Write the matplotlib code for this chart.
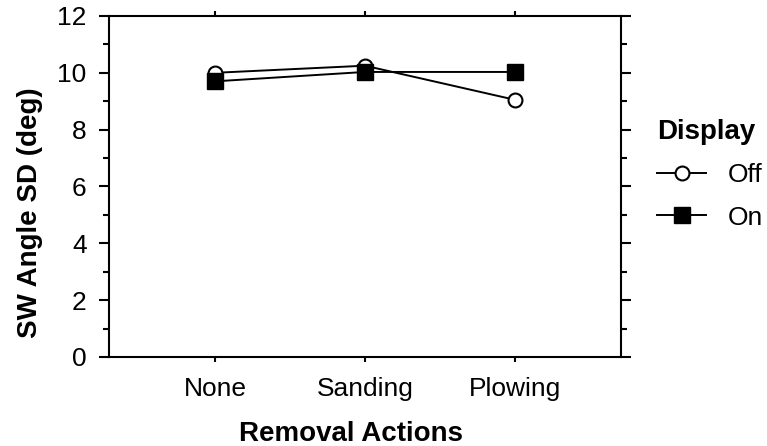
import matplotlib.pyplot as plt

plt.rcParams['font.family'] = ['Liberation Sans', 'DejaVu Sans']

actions = ['None', 'Sanding', 'Plowing']
off_vals = [10.0, 10.25, 9.05]
on_vals = [9.7, 10.03, 10.03]

fig = plt.figure(figsize=(7.67, 4.46), dpi=100)
ax = fig.add_axes([0.1421, 0.1996, 0.6675, 0.7646])

x = range(len(actions))
ax.plot(x, off_vals, color='black', lw=1.4, marker='o', ms=10,
        mfc='white', mec='black', mew=1.5, label='Off', zorder=3)
ax.plot(x, on_vals, color='black', lw=1.4, marker='s', ms=11.3,
        mfc='black', mec='black', label='On', zorder=4)

ax.set_xlim(-0.707, 2.707)
ax.set_ylim(0, 12)
ax.set_xticks(list(x))
ax.set_xticklabels(actions)
ax.set_yticks(range(0, 13, 2))
ax.set_yticks(range(1, 12, 2), minor=True)

for s in ax.spines.values():
    s.set_linewidth(1.5)
ax.tick_params(which='both', direction='out', width=1.5, labelsize=19,
               top=True, right=True)
ax.tick_params(axis='x', length=3.6, pad=10.8)
ax.tick_params(axis='y', which='major', length=7.5, pad=8.6)
ax.tick_params(axis='y', which='minor', length=4)

ax.set_xlabel('Removal Actions', fontsize=20, fontweight='bold')
ax.set_ylabel('SW Angle SD (deg)', fontsize=20, fontweight='bold')
ax.xaxis.set_label_coords(0.473, -0.188)
ax.yaxis.set_label_coords(-0.129, 0.422)

leg = fig.legend(handles=ax.get_lines(), title='Display', loc='upper left',
                 bbox_to_anchor=(0.857, 0.734), frameon=False, fontsize=19,
                 handlelength=1.86, handletextpad=0.8, labelspacing=0.7,
                 borderaxespad=0, borderpad=0)
leg.get_title().set_fontweight('bold')
leg.get_title().set_fontsize(20)
leg._legend_box.align = 'left'

fig.savefig('out.png', dpi=100)
